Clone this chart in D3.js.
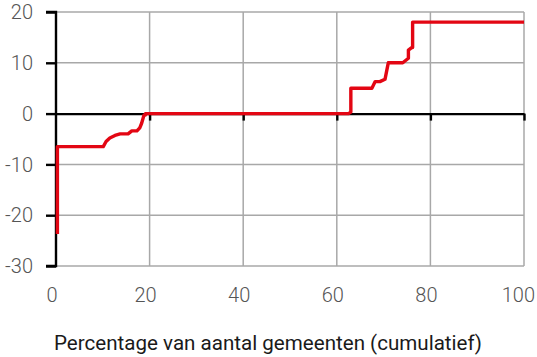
<!DOCTYPE html>
<html>
<head>
<meta charset="utf-8">
<script src="https://cdn.jsdelivr.net/npm/d3@7"></script>
<style>
  body { margin: 0; background: #fff; }
  text { font-family: Roboto, "Noto Sans", sans-serif; }
</style>
</head>
<body>
<div id="chart"></div>
<script>
var svgWidth = 537;
var svgHeight = 357;

// cumulative share of municipalities (%) and value at that point
var shareX = [0.3, 0.3, 10.1, 10.7, 11.5, 12.6, 13.7, 15.4, 16.2, 17.3, 17.9, 18.3, 18.8, 19.1, 19.1,
  62.5, 63.0, 63.0, 67.5, 68.2, 69.2, 70.3, 71.0, 74.1, 75.3, 75.3, 76.0, 76.2, 76.2, 100];
var values = [-23.7, -6.5, -6.5, -5.5, -4.8, -4.3, -4.0, -4.0, -3.4, -3.4, -2.8, -1.9, -0.3, -0.3, 0,
  0, 0.3, 5.0, 5.0, 6.3, 6.3, 6.75, 10.0, 10.0, 10.9, 12.5, 13.0, 13.0, 18.0, 18.0];

var xTicks = [0, 20, 40, 60, 80, 100];
var yTicks = [20, 10, 0, -10, -20, -30];
var xTitle = "Percentage van aantal gemeenten (cumulatief)";

var plot = { left: 56, right: 524, top: 12, bottom: 266 };

var svg = d3.select("#chart")
  .append("svg")
  .attr("width", svgWidth)
  .attr("height", svgHeight);

var xScale = d3.scaleLinear()
  .domain([0, 100])
  .range([plot.left, plot.right]);

var yScale = d3.scaleLinear()
  .domain([-30, 20])
  .range([plot.bottom, plot.top]);

// grid lines
svg.append("g")
  .selectAll("line")
  .data(xTicks.filter(d => d > 0))
  .enter()
  .append("line")
  .attr("x1", d => xScale(d))
  .attr("x2", d => xScale(d))
  .attr("y1", yScale(20))
  .attr("y2", yScale(-30))
  .attr("stroke", "#a8a8a8")
  .attr("stroke-width", 1.5);

svg.append("g")
  .selectAll("line")
  .data(yTicks.filter(d => d !== 0))
  .enter()
  .append("line")
  .attr("x1", xScale(0))
  .attr("x2", xScale(100))
  .attr("y1", d => yScale(d))
  .attr("y2", d => yScale(d))
  .attr("stroke", "#a8a8a8")
  .attr("stroke-width", 1.5);

// y axis (left), ticks pointing outwards
var leftAxis = d3.axisLeft(yScale)
  .tickValues(yTicks)
  .tickSize(10)
  .tickFormat("");

var yAxis = svg.append("g")
  .attr("transform", `translate(${xScale(0)}, 0)`)
  .call(leftAxis);

yAxis.select(".domain")
  .attr("d", `M-10,${yScale(20)}H0V${yScale(-30)}H-10`)
  .attr("stroke", "#000")
  .attr("stroke-width", 2.4);
yAxis.selectAll(".tick line")
  .attr("stroke", "#000")
  .attr("stroke-width", 2.4);

// x axis through zero with short ticks below
var bottomAxis = d3.axisBottom(xScale)
  .tickValues(xTicks.filter(d => d > 0))
  .tickSize(7)
  .tickSizeOuter(0)
  .tickFormat("");

var xAxis = svg.append("g")
  .attr("transform", `translate(0, ${yScale(0)})`)
  .call(bottomAxis);

xAxis.select(".domain")
  .attr("stroke", "#000")
  .attr("stroke-width", 2.4);
xAxis.selectAll(".tick line")
  .attr("stroke", "#000")
  .attr("stroke-width", 2.4);

// tick labels
svg.append("g")
  .selectAll("text")
  .data(yTicks)
  .enter()
  .append("text")
  .attr("x", 33)
  .attr("y", d => yScale(d))
  .attr("dy", "0.36em")
  .attr("text-anchor", "end")
  .attr("font-size", 20)
  .attr("font-weight", 300)
  .attr("fill", "#555")
  .text(d => d);

svg.append("g")
  .selectAll("text")
  .data(xTicks)
  .enter()
  .append("text")
  .attr("x", d => d === 100 ? 535 : xScale(d) - 4)
  .attr("y", 302)
  .attr("text-anchor", d => d === 100 ? "end" : "middle")
  .attr("font-size", 20)
  .attr("font-weight", 300)
  .attr("fill", "#555")
  .text(d => d);

svg.append("text")
  .attr("x", 54)
  .attr("y", 350)
  .attr("font-size", 20)
  .attr("textLength", 428)
  .attr("lengthAdjust", "spacingAndGlyphs")
  .attr("fill", "#1a1a1a")
  .text(xTitle);

// the red step line
var line = d3.line()
  .x((d, i) => xScale(shareX[i]))
  .y(d => yScale(d));

svg.append("path")
  .datum(values)
  .attr("d", line)
  .attr("fill", "none")
  .attr("stroke", "#e30613")
  .attr("stroke-width", 3.4)
  .attr("stroke-linejoin", "round");
</script>
</body>
</html>
